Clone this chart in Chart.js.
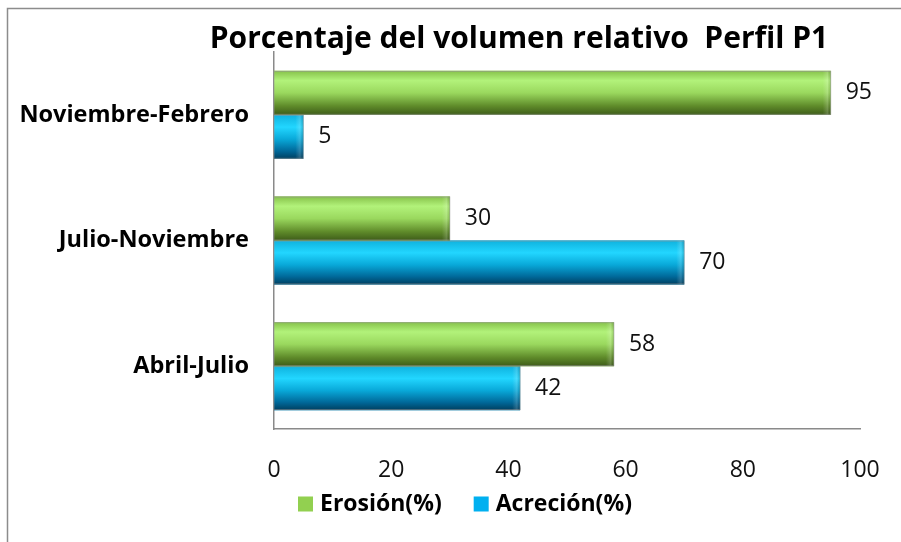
<!DOCTYPE html>
<html>
<head>
<meta charset="utf-8">
<script src="https://cdn.jsdelivr.net/npm/chart.js@4/dist/chart.umd.min.js"></script>
<style>
  html, body { margin: 0; padding: 0; background: #ffffff; }
  #wrap { width: 901px; height: 542px; position: relative; }
</style>
</head>
<body>
<div id="wrap"><canvas id="chart" width="901" height="542"></canvas></div>
<script>
// Periods (top to bottom) and relative volume percentages per period
const periods = ['Noviembre-Febrero', 'Julio-Noviembre', 'Abril-Julio'];
const erosion = [95, 30, 58];
const acrecion = [5, 70, 42];
const xTicks = [0, 20, 40, 60, 80, 100];
const chartTitle = 'Porcentaje del volumen relativo  Perfil P1';
const seriesNames = ['Erosión(%)', 'Acreción(%)'];

const FONT = '"Open Sans", Lato, "Liberation Sans", sans-serif';

// Cylinder-like shading for each series (top to bottom of the bar)
const shades = [
  [[0, '#86c24a'], [0.22, '#b2f27a'], [0.5, '#9ad85e'], [0.8, '#5f8b2a'], [1, '#3e5c19']],
  [[0, '#0fb2de'], [0.28, '#22d6ff'], [0.55, '#09a9d9'], [0.82, '#00699a'], [1, '#003f60']]
];

// Outer frame of the chart object
const framePlugin = {
  id: 'frame',
  beforeDraw(chart) {
    const c = chart.ctx;
    c.save();
    c.strokeStyle = '#8c8c8c';
    c.lineWidth = 1.5;
    c.beginPath();
    c.moveTo(7.5, chart.height + 5);
    c.lineTo(7.5, 8.5);
    c.lineTo(chart.width + 5, 8.5);
    c.stroke();
    c.restore();
  }
};

// Shaded bar bodies, drawn over each bar element's own geometry
const shadePlugin = {
  id: 'shade',
  afterDatasetDraw(chart, args) {
    const meta = args.meta;
    const stops = shades[args.index];
    const c = chart.ctx;
    c.save();
    meta.data.forEach(el => {
      const p = el.getProps(['x', 'y', 'base', 'height'], true);
      const top = p.y - p.height / 2;
      const g = c.createLinearGradient(0, top, 0, top + p.height);
      stops.forEach(s => g.addColorStop(s[0], s[1]));
      c.fillStyle = g;
      c.fillRect(p.base, top, p.x - p.base, p.height);
      // lighter rim at the bar end
      const r = c.createLinearGradient(p.x - 8, 0, p.x, 0);
      r.addColorStop(0, 'rgba(255,255,255,0)');
      r.addColorStop(0.6, 'rgba(255,255,255,0.18)');
      r.addColorStop(1, 'rgba(0,0,0,0.12)');
      c.fillStyle = r;
      c.fillRect(Math.max(p.base, p.x - 8), top, Math.min(8, p.x - p.base), p.height);
      c.strokeStyle = 'rgba(150,150,150,0.6)';
      c.lineWidth = 1;
      c.strokeRect(p.base, top + 0.5, p.x - p.base, p.height - 1);
    });
    c.restore();
  }
};

// Value labels to the right of each bar
const valueLabels = {
  id: 'valueLabels',
  afterDatasetsDraw(chart) {
    const c = chart.ctx;
    c.save();
    c.font = '23px ' + FONT;
    c.fillStyle = '#111111';
    c.textAlign = 'left';
    c.textBaseline = 'middle';
    chart.data.datasets.forEach((ds, di) => {
      chart.getDatasetMeta(di).data.forEach((el, i) => {
        const p = el.getProps(['x', 'y'], true);
        c.fillText(String(ds.data[i]), p.x + 15, p.y);
      });
    });
    c.restore();
  }
};

// Title, centred over the plotting region
const titlePlugin = {
  id: 'customTitle',
  afterDraw(chart) {
    const c = chart.ctx;
    c.save();
    c.font = 'bold 30px ' + FONT;
    c.fillStyle = '#000000';
    c.textAlign = 'center';
    c.textBaseline = 'middle';
    c.fillText(chartTitle, 519, 39);
    c.restore();
  }
};

// Series key below the axis: square swatch followed by the series name
const keyPlugin = {
  id: 'seriesKey',
  afterDraw(chart) {
    const c = chart.ctx;
    c.save();
    c.font = 'bold 23px ' + FONT;
    c.textAlign = 'left';
    c.textBaseline = 'middle';
    const y = 504;
    let x = 298;
    chart.data.datasets.forEach(ds => {
      c.fillStyle = ds.backgroundColor;
      c.fillRect(x, y - 7.5, 15, 15);
      c.fillStyle = '#000000';
      c.fillText(ds.label, x + 22, y);
      x += 22 + c.measureText(ds.label).width + 32;
    });
    c.restore();
  }
};

new Chart(document.getElementById('chart'), {
  type: 'bar',
  data: {
    labels: periods,
    datasets: [
      { label: seriesNames[0], data: erosion, backgroundColor: '#92d050', borderWidth: 0 },
      { label: seriesNames[1], data: acrecion, backgroundColor: '#00b0f0', borderWidth: 0 }
    ]
  },
  options: {
    indexAxis: 'y',
    responsive: false,
    animation: false,
    events: [],
    layout: { padding: { top: 52, left: 0, right: 41, bottom: 63 } },
    datasets: { bar: { categoryPercentage: 0.7, barPercentage: 1.0 } },
    scales: {
      x: {
        min: 0, max: 100,
        afterBuildTicks(scale) { scale.ticks = xTicks.map(v => ({ value: v })); },
        grid: { display: false },
        border: { display: true, color: '#8a8a8a', width: 1.5 },
        ticks: { color: '#111111', font: { family: FONT, size: 23 }, padding: 20 },
        afterFit(scale) { scale.height = 50; }
      },
      y: {
        grid: { display: false },
        border: { display: true, color: '#8a8a8a', width: 1.5 },
        ticks: { color: '#000000', font: { family: FONT, size: 23.5, weight: 'bold' }, padding: 17 },
        afterFit(scale) { scale.width = 274; }
      }
    },
    plugins: {
      title: { display: false },
      tooltip: { enabled: false },
      legend: { display: false }
    }
  },
  plugins: [framePlugin, shadePlugin, valueLabels, titlePlugin, keyPlugin]
});
</script>
</body>
</html>
